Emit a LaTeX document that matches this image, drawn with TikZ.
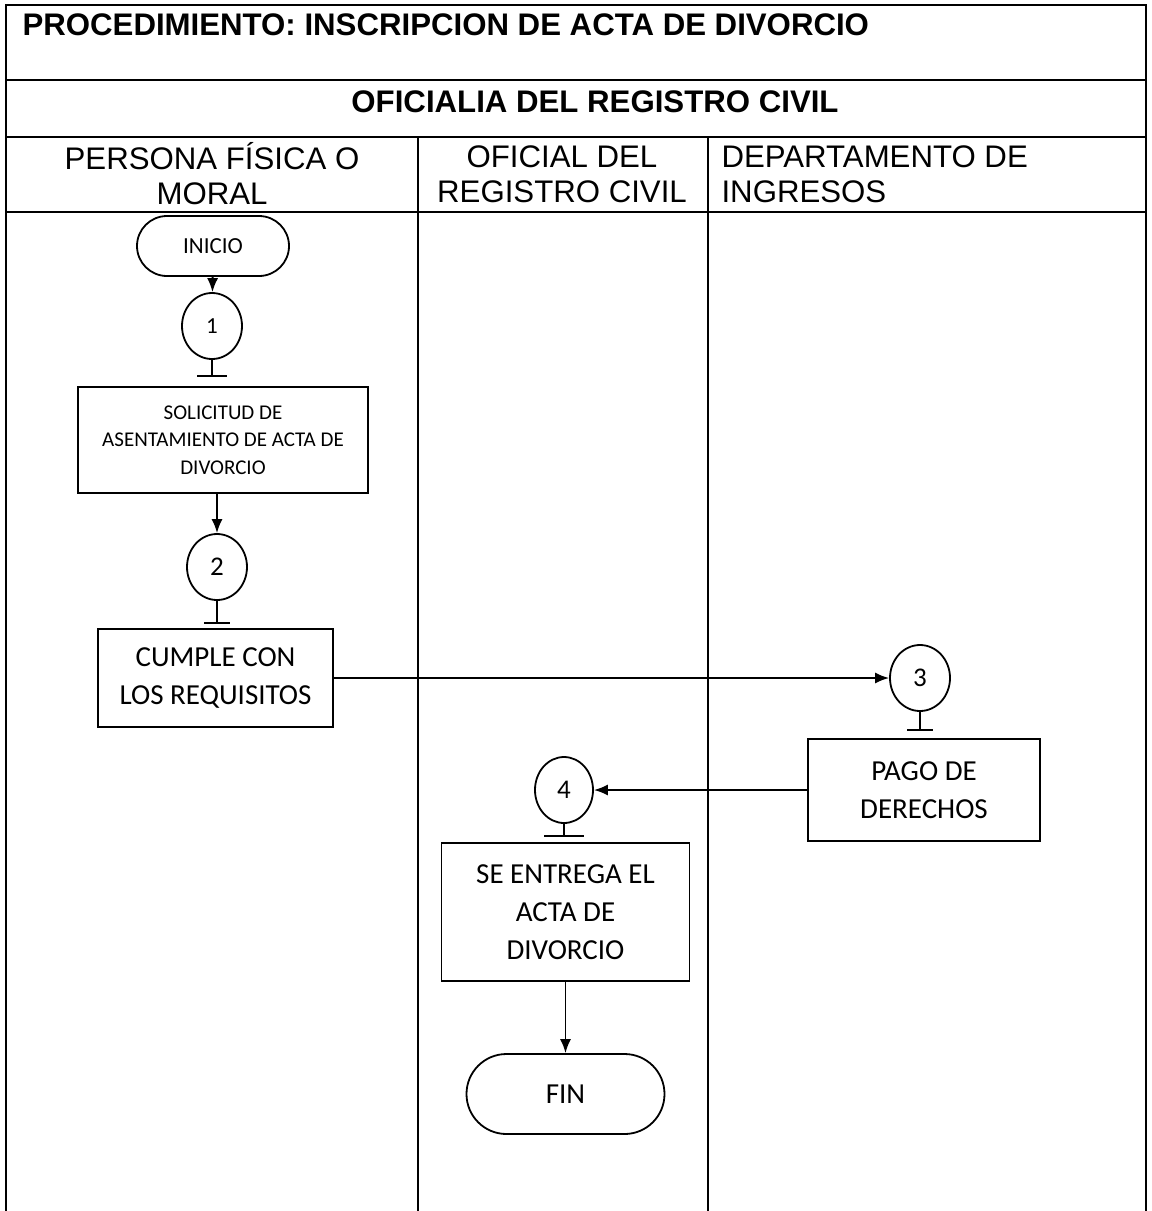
\documentclass[tikz,border=0pt]{standalone}
\usepackage{fontspec}
\setmainfont{Carlito}
\newfontfamily\headfont{Liberation Sans}
\usetikzlibrary{arrows.meta}
\usetikzlibrary{shapes.geometric,shapes.misc}

\begin{document}
\begin{tikzpicture}[x=0.5pt,y=-0.5pt,line width=0.9pt,
    flecha/.style={-{Latex[length=7pt,width=5.5pt]}},
    proc/.style={draw,rectangle,align=center,inner sep=0pt,
      font=\fontsize{14.5}{19}\selectfont},
    term/.style={draw,rounded rectangle,inner sep=0pt},
    conn/.style={draw,ellipse,inner sep=0pt,minimum width=30pt,
      minimum height=33pt,font=\fontsize{13.5}{15}\selectfont},
    titlefont/.style={font=\headfont\bfseries\fontsize{15.6}{18}\selectfont},
    lanehead/.style={align=center,font=\headfont\fontsize{15.6}{17.5}\selectfont}]
\useasboundingbox (0,0) rectangle (1152,1211);
% table
\draw (6,1211) -- (6,5) -- (1146,5) -- (1146,1211);
\draw (6,80) -- (1146,80);
\draw (6,137) -- (1146,137);
\draw (6,212) -- (1146,212);
\draw (418,137) -- (418,1211);
\draw (708,137) -- (708,1211);
\node[anchor=west,titlefont] (titulo)
  at (15,25) {PROCEDIMIENTO: INSCRIPCION DE ACTA DE DIVORCIO};
\node[titlefont] (area) at (595,102) {OFICIALIA DEL REGISTRO CIVIL};
\node[lanehead] (persona) at (212,174) {PERSONA FÍSICA O\\MORAL};
\node[lanehead] (oficial) at (562,174) {OFICIAL DEL\\REGISTRO CIVIL};
\node[lanehead,align=left,anchor=west] (ingresos) at (714,174)
  {DEPARTAMENTO DE\\INGRESOS};
% flujo
\node[term,minimum width=76pt,minimum height=30pt,
  font=\fontsize{11.5}{13}\selectfont] (inicio) at (213,246) {INICIO};
\node[conn,font=\fontsize{11.5}{13}\selectfont] (c1) at (212,326) {1};
\node[proc,minimum width=145pt,minimum height=53pt,
  font=\fontsize{10.5}{13.7}\selectfont] (solicitud) at (223,440)
  {SOLICITUD DE\\ASENTAMIENTO DE ACTA DE\\DIVORCIO};
\node[conn] (c2) at (217,567) {2};
\node[proc,minimum width=117.5pt,minimum height=49pt] (cumple)
  at (215.5,678) {CUMPLE CON\\LOS REQUISITOS};
\node[conn] (c3) at (920,678) {3};
\node[proc,minimum width=116pt,minimum height=51pt] (pago)
  at (924,790) {PAGO DE\\DERECHOS};
\node[conn,minimum width=29pt] (c4) at (564,790) {4};
\node[proc,minimum width=124pt,minimum height=69pt] (entrega)
  at (565.5,912) {SE ENTREGA EL\\ACTA DE\\DIVORCIO};
\node[term,minimum width=99pt,minimum height=40pt,
  font=\fontsize{14.5}{16}\selectfont] (fin) at (565.5,1094) {FIN};
%
\draw[flecha] (inicio) -- (c1);
\draw[flecha] (solicitud.south -| c2) -- (c2);
\draw[flecha] (cumple) -- (c3);
\draw[flecha] (pago) -- (c4);
\draw[flecha] (entrega) -- (fin);
% conectores de salida
\draw (c1.south) -- ++(0,16) ++(-15,0) -- ++(30,0);
\draw (c2.south) -- ++(0,22) ++(-13,0) -- ++(26,0);
\draw (c3.south) -- ++(0,18) ++(-13,0) -- ++(26,0);
\draw (c4.south) -- ++(0,12) ++(-20,0) -- ++(40,0);
\end{tikzpicture}
\end{document}
